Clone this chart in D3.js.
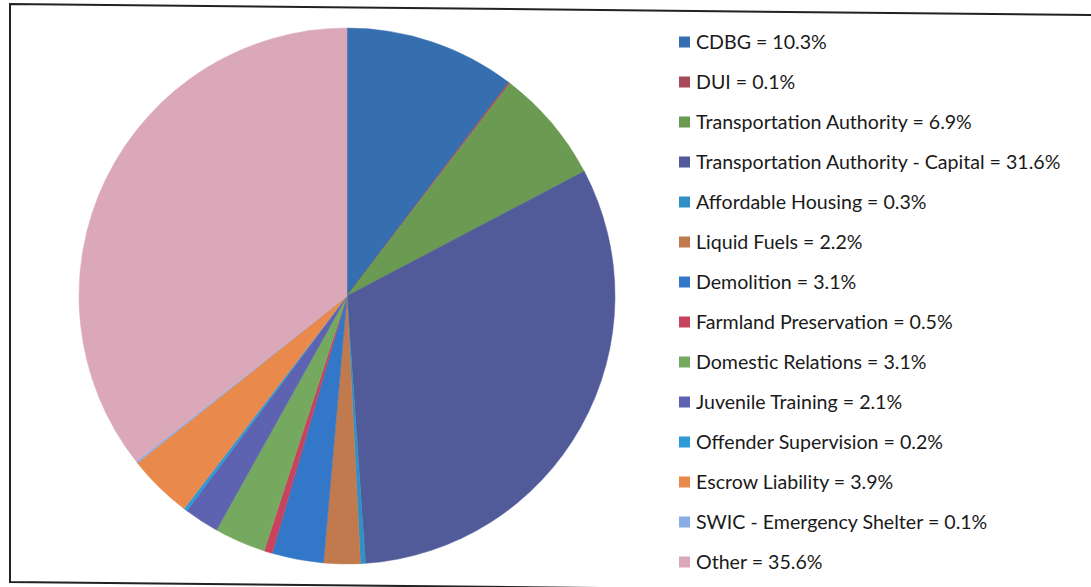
<!DOCTYPE html>
<html>
<head>
<meta charset="utf-8">
<script src="https://cdn.jsdelivr.net/npm/d3@7"></script>
<style>
  html, body { margin: 0; padding: 0; background: #fff; }
  svg { display: block; }
</style>
</head>
<body>
<script>
// Funding sources, share of total (%)
const categories = [
  "CDBG", "DUI", "Transportation Authority", "Transportation Authority - Capital",
  "Affordable Housing", "Liquid Fuels", "Demolition", "Farmland Preservation",
  "Domestic Relations", "Juvenile Training", "Offender Supervision",
  "Escrow Liability", "SWIC - Emergency Shelter", "Other"
];
const shares = [10.3, 0.1, 6.9, 31.6, 0.3, 2.2, 3.1, 0.5, 3.1, 2.1, 0.2, 3.9, 0.1, 35.6];
const colors = [
  "#356fb0", "#a84a5c", "#6b9a52", "#515b9a", "#3190c6", "#c07a4e", "#3378c8",
  "#c8445e", "#76a960", "#5d63b0", "#2e9ad8", "#e98a4c", "#88aee4", "#dba8ba"
];

const W = 1091, H = 587;
const svg = d3.select("body").append("svg").attr("width", W).attr("height", H);

// Outer frame
svg.append("path")
  .attr("d", "M1091,15 L10,4 L10,582 L1091,593")
  .attr("fill", "none").attr("stroke", "#222").attr("stroke-width", 2);

const data = categories.map((c, i) => ({ name: c, value: shares[i], color: colors[i] }));

const cx = 347, cy = 296, R = 268;
const pie = d3.pie().value(d => d.value).sort(null);
const arc = d3.arc().innerRadius(0).outerRadius(R);

const g = svg.append("g").attr("transform", `translate(${cx},${cy})`);
g.selectAll("path")
  .data(pie(data))
  .join("path")
  .attr("d", arc)
  .attr("fill", d => d.data.color)
  .attr("stroke", d => d.data.color)
  .attr("stroke-width", 0.5);

// Legend
const y = d3.scalePoint().domain(categories).range([42, 562]);
const legend = svg.append("g");
const items = legend.selectAll("g")
  .data(data)
  .join("g")
  .attr("transform", d => `translate(679,${y(d.name)})`);
items.append("rect")
  .attr("x", 0).attr("y", -5.5).attr("width", 11).attr("height", 11)
  .attr("fill", d => d.color);
items.append("text")
  .attr("x", 17).attr("y", 0).attr("dy", "0.35em")
  .attr("font-family", "Lato, 'Open Sans', sans-serif")
  .attr("font-size", 19.6)
  .attr("fill", "#1a1a1a")
  .text(d => `${d.name} = ${d.value.toFixed(1)}%`);
</script>
</body>
</html>
